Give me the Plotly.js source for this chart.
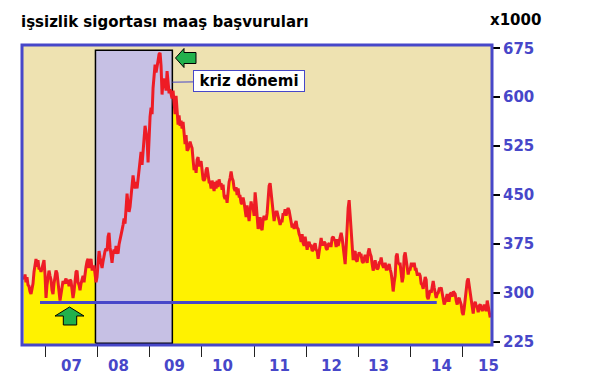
<!DOCTYPE html>
<html>
<head>
<meta charset="utf-8">
<script src="https://cdn.plot.ly/plotly-3.0.1.min.js"></script>
<style>html,body{margin:0;padding:0;background:#fff;}#chart{width:603px;height:385px;}</style>
</head>
<body>
<div id="chart"></div>
<script>
// Weekly initial unemployment-insurance claims (thousands), week ending dates from firstWeek
const firstWeek = '2006-08-05';
const claims = [
 320,328,316,324,312,310, 302,298,306,314,332,346, 352,340,350,336,338, 332,340,346,350,328,
 292,312,324,334,326, 320,304,298,314,324,334, 330,316,300,288,298,310, 318,314,318,322,314,320,
 310,320,318,306,292,302, 318,332,334,316,312,304, 314,320,326,316,332,340, 348,352,338,346,352,336,
 336,342,328,316,324,348, 364,354,346,338,348,358, 364,368,364,386,392,370, 354,346,360,366,360,372,
 364,360,374,380,390,396, 404,414,406,442,452,436, 424,432,446,466,480,468, 460,470,460,474,490,506,
 516,496,522,540,556,546, 536,500,542,570,584,574, 614,640,650,638,652,656, 666,668,648,604,626,628,
 620,610,640,624,606,612, 604,598,610,588,574,602, 586,558,572,556,564,552, 562,546,528,542,518,520,
 526,532,526,522,504,488, 496,484,504,508,494,498, 502,488,474,472,476,488, 492,482,470,470,460,472,
 466,456,470,460,472,462, 474,466,468,458,466,448, 444,450,438,456,470,476, 486,476,472,460,456,462,
 450,460,448,448,438,436, 446,438,424,416,434,418, 410,426,440,430,430,418, 454,438,408,398,406,416,
 400,396,412,418,414,412, 422,442,464,468,454,438, 418,410,420,424,424,416, 414,404,410,410,422,420,
 428,418,426,430,426,416, 412,400,406,398,406,410, 400,398,390,386,378,390, 376,372,386,374,366,374,
 378,372,372,364,366,372, 376,366,364,352,362,378, 384,374,374,378,376,368, 366,374,376,372,372,384,
 386,382,380,370,382,372, 380,390,392,384,372,356, 344,370,406,430,442,418, 394,368,350,362,364,350,
 348,356,362,358,358,348, 346,352,358,352,346,362, 368,360,356,344,334,342, 350,340,336,338,346,346,
 354,344,340,340,346,336, 336,340,344,336,330,318, 302,316,326,356,360,346, 344,344,330,316,324,356,
 362,350,342,328,336,336, 344,344,340,346,336,336, 328,328,330,326,314,312, 306,314,324,320,294,290,
 300,304,300,314,318,308, 298,292,298,300,306,306, 308,300,290,282,286,292, 298,288,288,298,300,294,
 302,300,298,288,282,290, 292,286,282,270,266,276, 290,306,318,322,310,300, 284,272,268,282,286,280,
 278,270,280,282,274,272, 276,282,276,272,288,278, 266,262
];
// crisis period (recession) and reference level
const crisisStart = '2007-12-18';
const crisisEnd = '2009-06-08';
const crisisLow = 222.6, crisisHigh = 671.9;
const refLevel = 285;
const refStart = '2006-11-25';
const refEnd = '2014-07-02';
// axis
const yTicks = [225, 300, 375, 450, 525, 600, 675];
const yearLabels = ['07','08','09','10','11','12','13','14','15'];
const yearLabelDates = ['2007-07-06','2008-05-30','2009-06-25','2010-05-23','2011-06-25','2012-06-28','2013-05-20','2014-08-04','2015-06-29'];

const dates = claims.map((_, i) => {
  const d = new Date(Date.parse(firstWeek + 'T00:00:00Z') + i * 7 * 86400000);
  return d.toISOString().slice(0, 10);
});

const BLUE = '#4747C9';
const L = 22, T = 45, W = 470, H = 300;
function P(px, py) { return ((px - L) / W).toFixed(4) + ',' + (1 - (py - T) / H).toFixed(4); }
function path(pts) { return 'M' + pts.map(p => P(p[0], p[1])).join(' L') + ' Z'; }

const upArrow = path([[69.5,307],[84,316],[76.7,316],[76.7,325],[63.3,325],[63.3,316],[55,316]]);
const leftArrow = path([[175.5,58],[184,48.5],[184,52.5],[196,52.5],[196,63.5],[184,63.5],[184,67.5]]);

const traces = [
  { x: dates, y: claims, type: 'scatter', mode: 'lines', fill: 'tozeroy', fillcolor: '#FFF200',
    line: { width: 0, color: '#FFF200' }, hoverinfo: 'skip' },
  { x: [crisisStart, crisisStart, crisisEnd, crisisEnd, crisisStart],
    y: [crisisLow, crisisHigh, crisisHigh, crisisLow, crisisLow],
    type: 'scatter', mode: 'lines', fill: 'toself', fillcolor: '#C6C0E4',
    line: { color: '#000', width: 1.5 }, hoverinfo: 'skip' },
  { x: dates, y: claims, type: 'scatter', mode: 'lines',
    line: { color: '#EE1C25', width: 3 }, hoverinfo: 'skip' },
  { x: [refStart, refEnd], y: [refLevel, refLevel], type: 'scatter', mode: 'lines',
    line: { color: BLUE, width: 3 }, hoverinfo: 'skip' }
];

const annotations = yearLabels.map((t, i) => ({
  text: t, x: yearLabelDates[i], xref: 'x', y: -0.07, yref: 'paper',
  xanchor: 'center', yanchor: 'middle', showarrow: false,
  font: { family: 'DejaVu Sans', size: 15, color: BLUE, weight: 'bold' }
}));
annotations.push({
  text: 'x1000', xref: 'paper', yref: 'paper', x: (488 - L) / W, y: 1 + (T - 19.5) / H,
  xanchor: 'left', yanchor: 'middle', showarrow: false,
  font: { family: 'DejaVu Sans', size: 15, color: '#000', weight: 'bold' }
});
annotations.push({
  text: 'kriz dönemi', x: crisisEnd, y: 623, xref: 'x', yref: 'y',
  showarrow: true, arrowhead: 0, arrowwidth: 1, arrowcolor: BLUE, ax: 77, ay: -1,
  bgcolor: '#fff', bordercolor: BLUE, borderwidth: 1, borderpad: 2, width: 106, height: 16,
  font: { family: 'DejaVu Sans', size: 15, color: '#000', weight: 'bold' }
});

const layout = {
  width: 603, height: 385,
  margin: { l: L, r: 603 - L - W, t: T, b: 385 - T - H },
  paper_bgcolor: '#fff', plot_bgcolor: '#EEE2B1',
  showlegend: false, hovermode: false,
  title: { text: 'işsizlik sigortası maaş başvuruları', xref: 'container', yref: 'container',
    x: 21 / 603, xanchor: 'left', y: 1 - 22 / 385, yanchor: 'middle',
    font: { family: 'DejaVu Sans', size: 15, color: '#000', weight: 'bold' } },
  xaxis: { type: 'date', range: ['2006-07-22', '2015-07-23 12:00'], showgrid: false, zeroline: false,
    showline: false, showticklabels: false, ticks: 'outside', ticklen: 11, tickwidth: 1, tickcolor: '#222',
    tick0: '2007-01-01', dtick: 'M12' },
  yaxis: { side: 'right', range: [219.9, 680], showgrid: false, zeroline: false, showline: false,
    tickvals: yTicks, ticks: 'outside', ticklen: 7, tickwidth: 2, tickcolor: '#000',
    tickfont: { family: 'DejaVu Sans', size: 15, color: BLUE, weight: 'bold' } },
  shapes: [
    { type: 'rect', xref: 'paper', yref: 'paper', x0: 0, x1: 1, y0: 0, y1: 1,
      line: { color: BLUE, width: 3 }, layer: 'above' },
    { type: 'path', xref: 'paper', yref: 'paper', path: upArrow, fillcolor: '#22B14C',
      line: { color: '#000', width: 1 }, layer: 'above' },
    { type: 'path', xref: 'paper', yref: 'paper', path: leftArrow, fillcolor: '#22B14C',
      line: { color: '#000', width: 1 }, layer: 'above' }
  ],
  annotations: annotations
};

Plotly.newPlot('chart', traces, layout, { staticPlot: true, displayModeBar: false });
</script>
</body>
</html>
